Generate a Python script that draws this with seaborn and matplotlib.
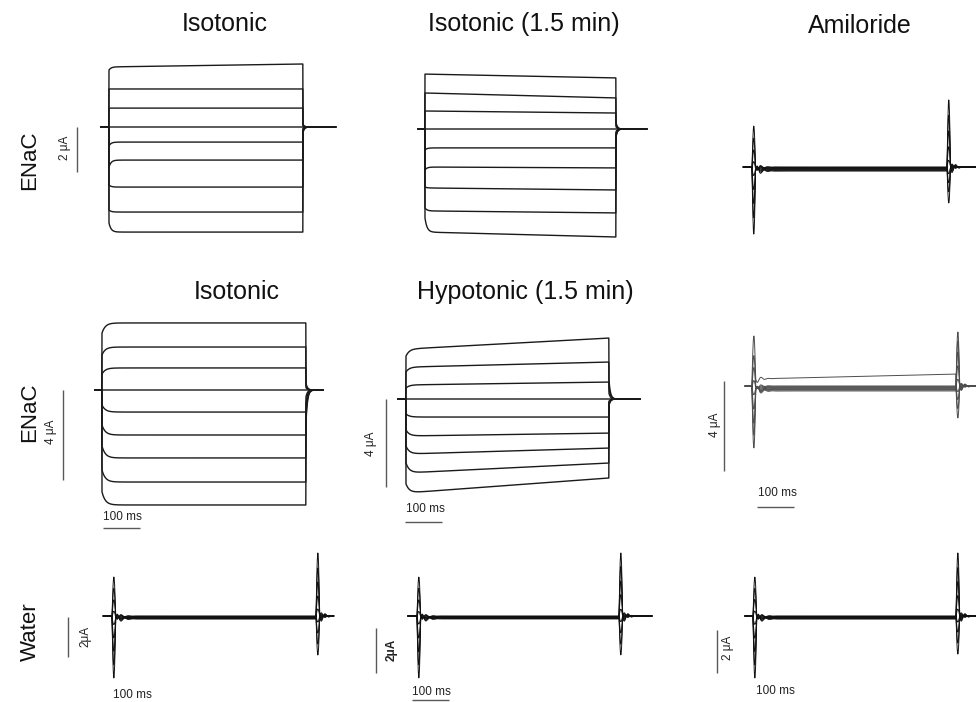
import numpy as np
import pandas as pd
import seaborn as sns
import matplotlib.pyplot as plt

sns.set_theme(style="white")
plt.rcParams['font.family'] = ['Liberation Sans', 'DejaVu Sans']

W, H = 976, 702
PULSE = 550.0  # ms, voltage step duration

# ---------------- data (currents in uA) ----------------
# ENaC panels: current right after the step, quasi-steady level, level at end, tail peak
A1_init = [2.53, 1.69, 0.84, 0.0, -0.84, -1.78, -2.58, -3.69, -4.27]
A1_ss   = [2.67, 1.69, 0.84, 0.0, -0.67, -1.47, -2.67, -3.78, -4.67]
A1_end  = [2.80, 1.69, 0.84, 0.0, -0.67, -1.47, -2.67, -3.78, -4.67]
A1_tail = [0.12, 0.08, 0.04, 0.0, -0.06, -0.10, -0.16, -0.20, -0.25]

A2_init = [2.44, 1.60, 0.80, 0.0, -0.93, -1.82, -2.58, -3.51, -3.96]
A2_ss   = [2.44, 1.60, 0.80, 0.0, -0.84, -1.69, -2.62, -3.64, -4.58]
A2_end  = [2.27, 1.38, 0.71, 0.0, -0.84, -1.73, -2.71, -3.73, -4.80]
A2_tail = [0.30, 0.20, 0.10, 0.0, -0.12, -0.20, -0.28, -0.32, -0.36]

B1_init = [2.53, 1.56, 0.71, 0.0, -0.67, -1.56, -2.49, -3.56, -4.53]
B1_ss   = [2.98, 1.91, 0.98, 0.0, -0.98, -2.00, -3.02, -4.09, -5.11]
B1_end  = [2.98, 1.91, 0.98, 0.0, -0.98, -2.00, -3.02, -4.09, -5.11]
B1_tail = [0.30, 0.20, 0.10, 0.0, -0.30, -0.60, -0.90, -1.20, -1.45]

B2_init = [1.95, 1.23, 0.50, 0.0, -0.68, -1.41, -2.14, -2.91, -3.86]
B2_ss   = [2.27, 1.45, 0.64, 0.0, -0.82, -1.68, -2.50, -3.36, -4.27]
B2_end  = [2.77, 1.68, 0.77, 0.0, -0.82, -1.55, -2.23, -2.91, -3.59]
B2_tail = [0.85, 0.50, 0.25, 0.0, -0.10, -0.15, -0.20, -0.25, -0.30]

# Amiloride / water panels: band level at start and end, onset and offset transient peaks
A3_start = [0.0, -0.02, -0.04, -0.06, -0.08, -0.10, -0.12, -0.15, -0.18]
A3_end   = [0.0, -0.02, -0.04, -0.06, -0.08, -0.10, -0.12, -0.15, -0.18]
A3_on    = [1.82, 1.30, 0.80, 0.30, -0.30, -0.90, -1.50, -2.10, -2.80]
A3_off   = [-1.60, -1.10, -0.70, -0.30, 0.30, 0.90, 1.60, 2.30, 2.98]

B3_start = [0.31, 0.0, -0.03, -0.06, -0.09, -0.12, -0.15, -0.18, -0.22]
B3_end   = [0.53, 0.0, -0.03, -0.06, -0.09, -0.12, -0.15, -0.18, -0.22]
B3_on    = [1.91, 1.35, 0.85, 0.30, -0.30, -0.90, -1.50, -2.00, -2.53]
B3_off   = [-1.42, -1.00, -0.60, -0.25, 0.30, 0.90, 1.50, 2.00, 2.40]

C1_start = [0.0, -0.02, -0.04, -0.06, -0.08, -0.09, -0.11, -0.13, -0.15]
C1_end   = [0.0, -0.02, -0.04, -0.06, -0.08, -0.09, -0.11, -0.13, -0.15]
C1_on    = [1.95, 1.40, 0.85, 0.30, -0.35, -1.00, -1.65, -2.30, -2.95]
C1_off   = [-1.95, -1.40, -0.85, -0.30, 0.35, 1.00, 1.70, 2.40, 3.15]

C2_start = [0.0, -0.02, -0.03, -0.05, -0.06, -0.08, -0.09, -0.11, -0.13]
C2_end   = [0.0, -0.02, -0.03, -0.05, -0.06, -0.08, -0.09, -0.11, -0.13]
C2_on    = [1.73, 1.25, 0.75, 0.25, -0.30, -0.90, -1.50, -2.05, -2.62]
C2_off   = [-1.73, -1.25, -0.75, -0.25, 0.30, 0.95, 1.55, 2.20, 2.80]

C3_start = [0.0, -0.02, -0.03, -0.05, -0.07, -0.08, -0.10, -0.12, -0.14]
C3_end   = [0.0, -0.02, -0.03, -0.05, -0.07, -0.08, -0.10, -0.12, -0.14]
C3_on    = [1.81, 1.30, 0.80, 0.28, -0.32, -0.95, -1.55, -2.15, -2.74]
C3_off   = [-1.77, -1.25, -0.75, -0.28, 0.32, 0.95, 1.60, 2.25, 2.93]

# recorded time window per panel (ms)
TIME_RANGE = {'A1': (-23, 643), 'A2': (-20, 639), 'A3': (-25, 640),
              'B1': (-19, 596), 'B2': (-22, 634), 'B3': (-19, 640),
              'C1': (-24, 598), 'C2': (-25, 640), 'C3': (-22, 640)}

# ---------------- layout (pixels): step onset x, step end x, baseline y, px per uA -------
LAYOUT = {'A1': (109, 303, 127, 22.5), 'A2': (425, 616, 129, 22.5), 'A3': (752, 947, 167, 22.5),
          'B1': (102, 306, 390, 22.5), 'B2': (406, 609, 399, 22.0), 'B3': (752, 956, 386, 22.5),
          'C1': (112, 316, 616, 20.0), 'C2': (417, 619, 616, 22.5), 'C3': (753, 956, 616, 21.5)}

fig = plt.figure(figsize=(W / 100, H / 100), dpi=100)
fig.patch.set_facecolor('white')


def make_ax(key):
    t0, t1, y0, pua = LAYOUT[key]
    pms = (t1 - t0) / PULSE
    ax = fig.add_axes([0, 0, 1, 1])
    ax.set_facecolor('none')
    return ax, (-t0 / pms, (W - t0) / pms), ((y0 - H) / pua, y0 / pua)


def finish(ax, xl, yl):
    ax.set_xlim(*xl)
    ax.set_ylim(*yl)
    ax.axis('off')


def enac_df(init, ss, end, tail, trange, tau_on=6.0, tau_off=4.0):
    t = np.arange(trange[0], trange[1] + 0.25, 0.5)
    frames = []
    for k, (a, b, c, d) in enumerate(zip(init, ss, end, tail)):
        i = np.zeros_like(t)
        on = (t >= 0) & (t < PULSE)
        tt = t[on]
        i[on] = b + (c - b) * tt / PULSE + (a - b) * np.exp(-tt / tau_on)
        off = t >= PULSE
        i[off] = d * np.exp(-(t[off] - PULSE) / tau_off)
        frames.append(pd.DataFrame({'t': t, 'I': i, 'trace': k}))
    return pd.concat(frames, ignore_index=True)


def spike(t, p, w=10.0):
    out = np.zeros_like(t)
    m1 = (t >= 0) & (t < w)
    out[m1] = p * np.sin(np.pi * t[m1] / w)
    m2 = t >= w
    s = t[m2] - w
    out[m2] = -0.12 * p * np.exp(-s / 12.0) * np.sin(2 * np.pi * s / 20.0)
    return out


def spike_df(start, end, pon, poff, trange):
    t = np.arange(trange[0], trange[1] + 0.25, 0.5)
    frames = []
    for k, (a, b, p1, p2) in enumerate(zip(start, end, pon, poff)):
        i = np.zeros_like(t)
        on = (t >= 0) & (t < PULSE)
        tt = t[on]
        i[on] = a + (b - a) * tt / PULSE + spike(tt, p1)
        off = t >= PULSE
        i[off] = spike(t[off] - PULSE, p2)
        frames.append(pd.DataFrame({'t': t, 'I': i, 'trace': k}))
    return pd.concat(frames, ignore_index=True)


panels = {
    'A1': enac_df(A1_init, A1_ss, A1_end, A1_tail, TIME_RANGE['A1']),
    'A2': enac_df(A2_init, A2_ss, A2_end, A2_tail, TIME_RANGE['A2']),
    'B1': enac_df(B1_init, B1_ss, B1_end, B1_tail, TIME_RANGE['B1'], tau_on=9.0),
    'B2': enac_df(B2_init, B2_ss, B2_end, B2_tail, TIME_RANGE['B2'], tau_on=9.0),
    'A3': spike_df(A3_start, A3_end, A3_on, A3_off, TIME_RANGE['A3']),
    'B3': spike_df(B3_start, B3_end, B3_on, B3_off, TIME_RANGE['B3']),
    'C1': spike_df(C1_start, C1_end, C1_on, C1_off, TIME_RANGE['C1']),
    'C2': spike_df(C2_start, C2_end, C2_on, C2_off, TIME_RANGE['C2']),
    'C3': spike_df(C3_start, C3_end, C3_on, C3_off, TIME_RANGE['C3']),
}

axes = {}
for key, df in panels.items():
    ax, xl, yl = make_ax(key)
    enac = key in ('A1', 'A2', 'B1', 'B2')
    col = '#1a1a1a' if enac else ('0.3' if key == 'B3' else '#111111')
    sns.lineplot(data=df, x='t', y='I', units='trace', estimator=None, color=col,
                 lw=1.0 if enac else 0.7, ax=ax, legend=False)
    axes[key] = (ax, xl, yl)

# ---------------- scale bars (data units: ms, uA) ----------------
BAR = dict(color='0.35', lw=1.0, solid_capstyle='butt')
axes['A1'][0].plot([-91, -91], [0, -2], **BAR)
axes['B1'][0].plot([-105, -105], [0, -4], **BAR)
axes['B1'][0].plot([3, 103], [-6.13, -6.13], **BAR)
axes['B2'][0].plot([-54, -54], [0, -4], **BAR)
axes['B2'][0].plot([-3, 97], [-5.59, -5.59], **BAR)
axes['B3'][0].plot([-75, -75], [0.2, -3.8], **BAR)
axes['B3'][0].plot([13, 113], [-5.38, -5.38], **BAR)
axes['C1'][0].plot([-119, -119], [-0.05, -2.05], **BAR)
axes['C2'][0].plot([-112, -112], [-0.53, -2.53], **BAR)
axes['C2'][0].plot([-14, 86], [-3.73, -3.73], **BAR)
axes['C3'][0].plot([-98, -98], [-0.65, -2.65], **BAR)

for ax, xl, yl in axes.values():
    finish(ax, xl, yl)


def ftext(x, y, s, **kw):
    kw.setdefault('ha', 'center')
    kw.setdefault('va', 'center')
    fig.text(x / W, 1 - y / H, s, **kw)


# titles
TITLE = dict(fontsize=18, color='#111111')
ftext(225, 24, 'Isotonic', **TITLE)
ftext(524, 24, 'Isotonic (1.5 min)', **TITLE)
ftext(860, 26, 'Amiloride', **TITLE)
ftext(237, 292, 'Isotonic', **TITLE)
ftext(525, 292, 'Hypotonic (1.5 min)', **TITLE)

# row labels
ROW = dict(fontsize=16, rotation=90, color='#111111')
ftext(30, 160, 'ENaC', **ROW)
ftext(30, 412, 'ENaC', **ROW)
ftext(30, 632, 'Water', **ROW)

# scale labels
SC = dict(fontsize=8.5, color='#222222')
ftext(65, 148, '2 μA', rotation=90, **SC)
ftext(51, 432, '4 μA', rotation=90, **SC)
ftext(122, 517, '100 ms', **SC)
ftext(371, 444, '4 μA', rotation=90, **SC)
ftext(425, 509, '100 ms', **SC)
ftext(715, 425, '4 μA', rotation=90, **SC)
ftext(777, 493, '100 ms', **SC)
ftext(85, 636, '2μA', rotation=90, **SC)
ftext(132, 695, '100 ms', **SC)
ftext(392, 650, '2μA', rotation=90, fontweight='bold', fontsize=8.5, color='#222222')
ftext(431, 692, '100 ms', **SC)
ftext(728, 648, '2 μA', rotation=90, **SC)
ftext(775, 691, '100 ms', **SC)

fig.savefig('out.png', dpi=100, facecolor='white')
